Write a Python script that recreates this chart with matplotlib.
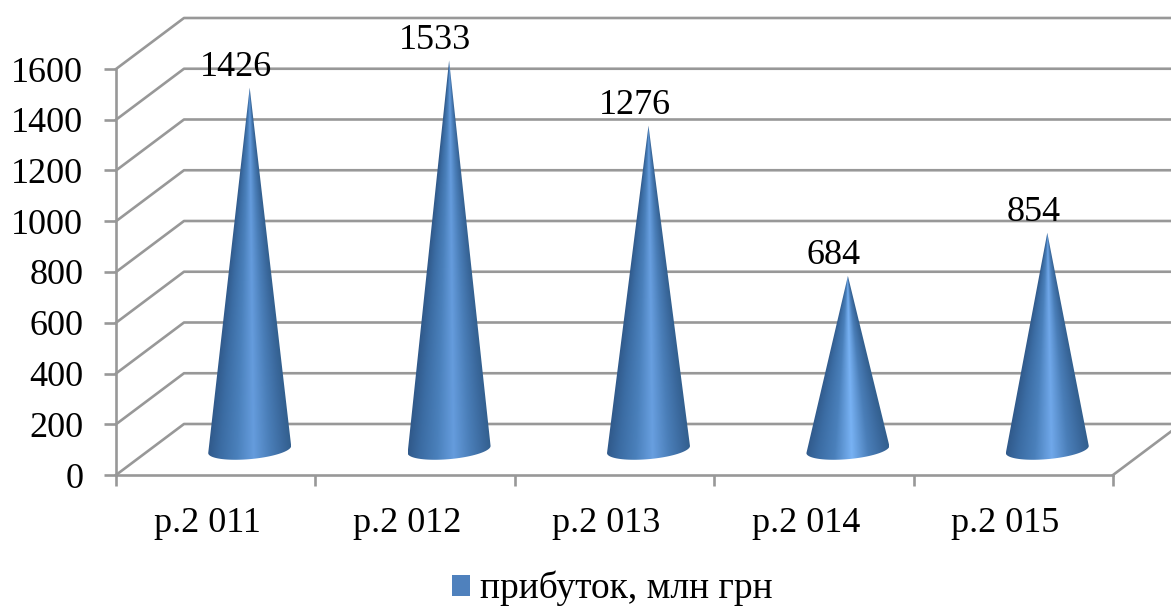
import numpy as np
import matplotlib.pyplot as plt
from matplotlib.colors import LinearSegmentedColormap
from matplotlib.patches import Patch, Polygon

plt.rcParams['font.family'] = ['Liberation Serif', 'DejaVu Serif']

# Data
years = ['р.2 011', 'р.2 012', 'р.2 013', 'р.2 014', 'р.2 015']
profit = [1426, 1533, 1276, 684, 854]
y_ticks = [0, 200, 400, 600, 800, 1000, 1200, 1400, 1600]
legend_label = 'прибуток, млн грн'

# 3D look: how far the back wall is shifted from the front, in data units
depth_x = 0.341
depth_y = 201
cone_a = 0.208
cone_tilt = 14
cone_b = 38

grid_color = '#989898'
line_w = 1.9
font_size = 26

# the lower cones have a brighter highlight in the picture
highlights = ['#659cdd', '#659cdd', '#689fe0', '#78b2f4', '#70a8ea']

fig = plt.figure(figsize=(11.71, 6.08), dpi=100)
ax = fig.add_axes([116 / 1171, (608 - 475) / 608, 997 / 1171, 406 / 608])

# walls
for v in y_ticks:
    ax.plot([0, depth_x, 5 + depth_x], [v, v + depth_y, v + depth_y],
            color=grid_color, lw=line_w, clip_on=False, zorder=1)
ax.plot([5, 5 + depth_x], [0, depth_y], color=grid_color, lw=line_w, clip_on=False, zorder=1)

# cones, shaded with a gradient that narrows towards the tip
centers = np.arange(len(profit)) + 0.5
for cx, val, hl in zip(centers, profit, highlights):
    shade = LinearSegmentedColormap.from_list('shade', [
        (0, '#30598a'), (0.15, '#3b6ca3'), (0.35, '#4a80bb'), (0.55, hl),
        (0.75, '#4a7eb8'), (0.92, '#3a689c'), (1, '#33608f')])
    bx = cx + depth_x / 2
    by = depth_y / 2
    t = np.linspace(0, np.pi, 60)
    ex = bx + cone_a * np.cos(t)
    ey = by + cone_tilt * np.cos(t) - cone_b * np.sin(t)
    px = np.r_[bx, ex]
    py = np.r_[by + val, ey]
    poly = Polygon(np.c_[px, py], closed=True, facecolor='none', edgecolor='none', transform=ax.transData)
    ax.add_patch(poly)

    y0, y1 = by - cone_b - 5, by + val
    xs = np.linspace(bx - cone_a, bx + cone_a, 240)
    ys = np.linspace(y0, y1, 500)
    xx, yy = np.meshgrid(xs, ys)
    w = cone_a * np.clip((by + val - yy) / val, 0.002, None)
    u = np.clip((xx - bx) / w * 0.5 + 0.5, 0, 1)
    im = ax.imshow(u, extent=[xs[0], xs[-1], y0, y1], origin='lower', aspect='auto',
                   cmap=shade, vmin=0, vmax=1, zorder=3)
    im.set_clip_box(fig.bbox)
    im.set_clip_path(poly)

    ax.annotate(str(val), (bx, by + val), xytext=(-14, 20), textcoords='offset pixels',
                ha='center', va='center', fontsize=font_size, color='black', zorder=4, annotation_clip=False)

ax.set_xlim(0, 5)
ax.set_ylim(0, 1600)
ax.patch.set_visible(False)

for s in ['top', 'right']:
    ax.spines[s].set_visible(False)
for s in ['left', 'bottom']:
    ax.spines[s].set_color(grid_color)
    ax.spines[s].set_linewidth(line_w)

ax.set_yticks(y_ticks)
ax.set_xticks(range(6))
ax.set_xticklabels([])
ax.tick_params(axis='y', length=8.5, width=line_w, color=grid_color, labelsize=font_size, pad=15)
ax.tick_params(axis='x', length=8, width=line_w, color=grid_color)

for cx, lab in zip(centers, years):
    ax.annotate(lab, (cx, 0), xytext=(-8, -57), textcoords='offset pixels',
                ha='center', va='baseline', fontsize=font_size, color='black', annotation_clip=False)

handle = Patch(facecolor='#4f81bd', edgecolor='none', label=legend_label)
fig.legend(handles=[handle], loc='lower left', bbox_to_anchor=(444 / 1171, -6 / 608), frameon=False,
           fontsize=27, handlelength=0.5, handleheight=0.5, handletextpad=0.27, borderaxespad=0, borderpad=0.2)

fig.savefig('out.png', dpi=100)
